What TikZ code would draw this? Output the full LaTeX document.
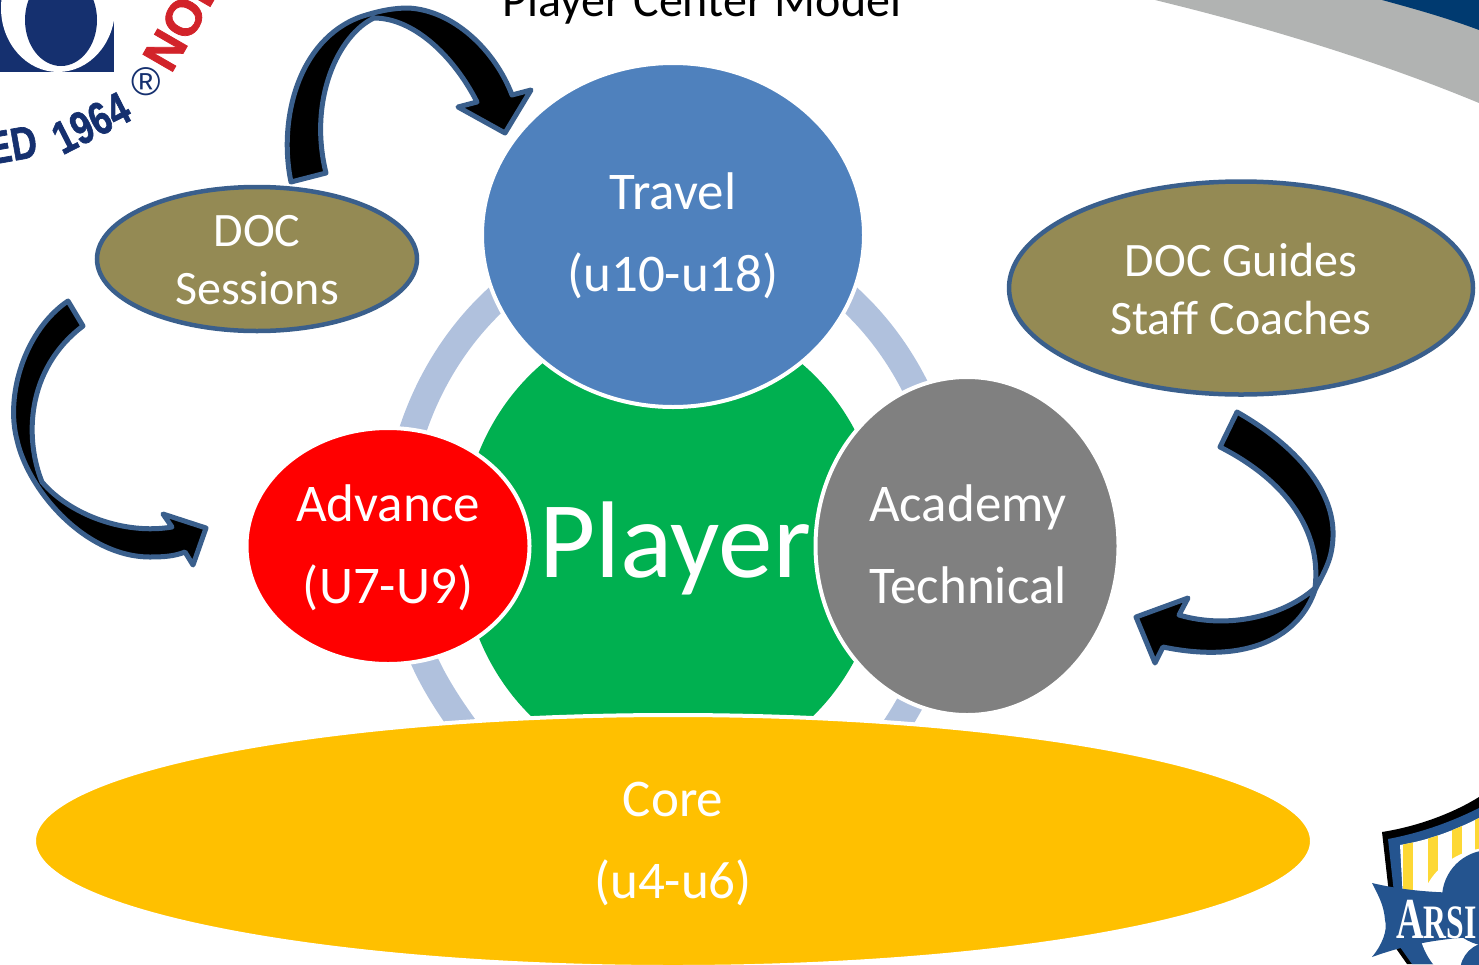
\documentclass[tikz,border=0pt]{standalone}
\usepackage{fontspec}
\setmainfont{Carlito}
\newfontfamily\logosans[BoldFeatures={FakeBold=1.5}]{Liberation Sans}
\newfontfamily\logoserif{Liberation Serif}
\usetikzlibrary{shapes.geometric}
\definecolor{travelblue}{HTML}{4F81BD}
\definecolor{olive}{HTML}{948A54}
\definecolor{edgeblue}{HTML}{3A5F8C}
\definecolor{playergreen}{HTML}{00B050}
\definecolor{gold}{HTML}{FFC000}
\definecolor{midgray}{HTML}{808080}
\definecolor{ringblue}{HTML}{B0C1DD}
\definecolor{swoosh}{HTML}{B1B3B2}
\definecolor{navy}{HTML}{003A70}
\definecolor{logoblue}{HTML}{15306F}
\definecolor{logored}{HTML}{D2232A}
\definecolor{shieldblue}{HTML}{24548F}
\definecolor{shieldyellow}{HTML}{FDD835}
\tikzset{
  blob/.style={ellipse,inner sep=0pt,outer sep=0pt},
  ringed/.style={blob,draw=white,line width=4pt},
  olivebox/.style={blob,fill=olive,draw=edgeblue,line width=4.5pt},
  bigcaption/.style={inner sep=0pt,text=white,align=center,font=\fontsize{53}{82}\selectfont},
  smallcaption/.style={inner sep=0pt,text=white,align=center,font=\fontsize{48}{58}\selectfont},
  bentarrow/.style={fill=black,draw=edgeblue,line width=5pt,line join=round},
  logotext/.style={text=logoblue,inner sep=0pt,font=\logosans\bfseries\fontsize{46}{46}\selectfont},
}
\begin{document}
\begin{tikzpicture}[x=1pt,y=-1pt]
\useasboundingbox (0,0) rectangle (1479,964);
\clip (0,0) rectangle (1479,964);
% corner swoosh
\fill[swoosh] (1155,0) .. controls (1270,28) and (1380,62) .. (1479,103) -- (1479,0) -- cycle;
\fill[navy] (1382,0) .. controls (1415,9) and (1447,18) .. (1479,30) -- (1479,0) -- cycle;
% top-left logo
\fill[logoblue] (0,0) rectangle (114,72);
\fill[white] (58,8) ellipse (57 and 64);
\fill[logoblue] (61,20) ellipse (36 and 46);
\node[logotext] (est) at (12,145) [rotate=10] {\scalebox{.78}[1]{ED}};
\node[logotext] (year) at (91,123) [rotate=27] {\scalebox{.78}[1]{1964}};
\node[text=logoblue,inner sep=0pt,font=\logosans\fontsize{40}{40}\selectfont] (reg) at (146,82) {®};
\node[logotext,text=logored,anchor=west,font=\logosans\bfseries\fontsize{50}{50}\selectfont] (noi) at (156,66) [rotate=60] {NOI};
% title
\node[inner sep=0pt,anchor=base,font=\fontsize{48}{48}\selectfont] (title) at (702,16) {Player Center Model};
% ring and centre
\begin{scope}
  \clip (0,0) rectangle (1479,600) (673,600) rectangle (1479,964);
  \draw[ringblue,line width=27pt] (673,540) ellipse (278 and 312);
\end{scope}
\draw[ringblue,line width=27pt] (416,640) .. controls (428,675) and (448,705) .. (470,735);
\node[blob,fill=playergreen,minimum width=422pt,minimum height=460pt] (player) at (672,545) {};
\node[text=white,inner sep=0pt,anchor=base,font=\fontsize{109}{109}\selectfont] (playertext) at (675,577) {Player};
% nodes
\node[ringed,fill=travelblue,minimum width=382pt,minimum height=344pt] (travel) at (673,235) {};
\node[bigcaption] (traveltext) at (673,235.5) {Travel\\(u10-u18)};
\node[ringed,fill=red,minimum width=283pt,minimum height=236pt] (advance) at (388,546) {};
\node[bigcaption] (advancetext) at (388,547.5) {Advance\\(U7-U9)};
\node[ringed,fill=midgray,minimum width=303pt,minimum height=338pt] (academy) at (967,546) {};
\node[bigcaption] (academytext) at (968,544) {Academy\\Technical};
\node[ringed,fill=gold,minimum width=1278pt,minimum height=252pt] (core) at (673,841) {};
\node[bigcaption] (coretext) at (673,844) {Core\\(u4-u6)};
\node[olivebox,minimum width=320pt,minimum height=144pt] (sessions) at (257,259) {};
\node[smallcaption] (sessionstext) at (257,260) {DOC\\Sessions};
\node[olivebox,minimum width=464pt,minimum height=213pt] (guides) at (1241,288) {};
\node[smallcaption] (guidestext) at (1241,289) {DOC Guides\\Staff Coaches};
% curved arrows
\draw[bentarrow] (291,182) .. controls (278,120) and (298,40) .. (360,17)
  .. controls (378,11) and (393,8) .. (408,8)
  .. controls (453,10) and (495,50) .. (512,95) -- (531,90) -- (505,133) -- (458,107) -- (477,102)
  .. controls (453,55) and (413,18) .. (374,18)
  .. controls (338,35) and (308,100) .. (326,173) -- cycle;
\draw[bentarrow] (68,301) .. controls (25,330) and (5,395) .. (17,440)
  .. controls (28,490) and (85,557) .. (150,557)
  .. controls (165,557) and (175,556) .. (185,552) -- (193,565) -- (206,528) -- (163,514) -- (172,527)
  .. controls (125,535) and (70,515) .. (42,482)
  .. controls (25,440) and (25,370) .. (83,326) -- cycle;
\draw[bentarrow] (1237,412) .. controls (1295,445) and (1335,490) .. (1333,537)
  .. controls (1332,560) and (1325,570) .. (1315,590)
  .. controls (1300,635) and (1250,665) .. (1163,647) -- (1155,663) -- (1136,617) -- (1188,598) -- (1179,615)
  .. controls (1230,630) and (1285,615) .. (1315,588)
  .. controls (1322,530) and (1285,480) .. (1220,447) -- cycle;
% bottom-right shield
\fill[black] (1382,832) .. controls (1420,826) and (1455,812) .. (1479,797) -- (1479,964) -- (1407,964) -- (1395,947) -- cycle;
\fill[shieldblue] (1388,839) .. controls (1425,832) and (1455,820) .. (1479,808) -- (1479,964) -- (1412,964) -- (1400,947) -- cycle;
\begin{scope}
  \clip (1400,845) .. controls (1430,840) and (1455,830) .. (1479,818) -- (1479,900) -- (1403,900) -- cycle;
  \fill[white] (1395,810) rectangle (1479,900);
  \fill[shieldyellow] (1403,810) rectangle (1413,900);
  \fill[shieldyellow] (1428,810) rectangle (1438,900);
  \fill[shieldyellow] (1452,810) rectangle (1462,900);
  \fill[shieldyellow] (1475,810) rectangle (1479,900);
\end{scope}
\fill[white] (1490,920) circle (72);
\fill[shieldblue] (1490,898) circle (48);
\fill[shieldblue] (1490,972) circle (30);
\fill[shieldblue] (1372,883) .. controls (1410,892) and (1445,893) .. (1479,893) -- (1479,937) .. controls (1440,938) and (1405,945) .. (1372,957)
  .. controls (1382,945) and (1388,930) .. (1385,920) .. controls (1384,905) and (1378,895) .. (1372,883) -- cycle;
\node[inner sep=0pt,anchor=base west,text=white,font=\logoserif\bfseries\fontsize{58}{58}\selectfont] (arsl) at (1396,938) {\scalebox{.66}[1]{A\fontsize{48}{48}\selectfont RSI}};
\end{tikzpicture}
\end{document}
